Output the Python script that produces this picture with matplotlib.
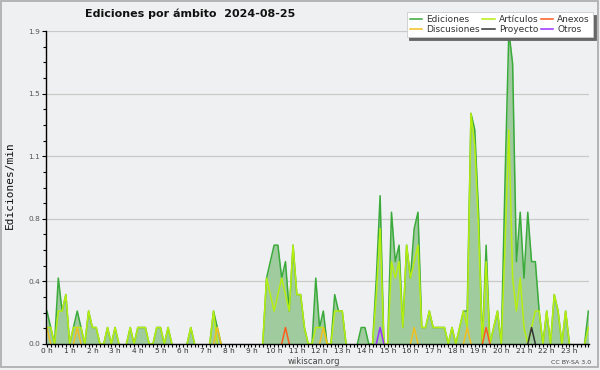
import numpy as np
import matplotlib
matplotlib.use('Agg')
import matplotlib.pyplot as plt
from matplotlib import font_manager as fm
from matplotlib.patches import Rectangle
from matplotlib.ticker import MultipleLocator, FixedLocator, FormatStrFormatter

# edits per minute, one value per 10-minute slot (144 slots, 00:00 .. 23:50)
ediciones = [
    0.2, 0.1, 0.0, 0.4, 0.2, 0.3,  0.0, 0.1, 0.2, 0.1, 0.0, 0.2,   # 0h 1h
    0.1, 0.1, 0.0, 0.0, 0.1, 0.0,  0.1, 0.0, 0.0, 0.0, 0.1, 0.0,   # 2h 3h
    0.1, 0.1, 0.1, 0.0, 0.0, 0.1,  0.1, 0.0, 0.1, 0.0, 0.0, 0.0,   # 4h 5h
    0.0, 0.0, 0.1, 0.0, 0.0, 0.0,  0.0, 0.0, 0.2, 0.1, 0.0, 0.0,   # 6h 7h
    0.0, 0.0, 0.0, 0.0, 0.0, 0.0,  0.0, 0.0, 0.0, 0.0, 0.4, 0.5,   # 8h 9h
    0.6, 0.6, 0.4, 0.5, 0.2, 0.6,  0.3, 0.3, 0.1, 0.0, 0.0, 0.4,   # 10h 11h
    0.1, 0.2, 0.0, 0.0, 0.3, 0.2,  0.2, 0.0, 0.0, 0.0, 0.0, 0.1,   # 12h 13h
    0.1, 0.0, 0.0, 0.4, 0.9, 0.0,  0.0, 0.8, 0.5, 0.6, 0.1, 0.6,   # 14h 15h
    0.4, 0.7, 0.8, 0.1, 0.1, 0.2,  0.1, 0.1, 0.1, 0.1, 0.0, 0.1,   # 16h 17h
    0.0, 0.1, 0.2, 0.2, 1.4, 1.3,  0.8, 0.0, 0.6, 0.0, 0.1, 0.2,   # 18h 19h
    0.0, 1.0, 1.9, 1.7, 0.5, 0.8,  0.4, 0.8, 0.5, 0.5, 0.2, 0.0,   # 20h 21h
    0.2, 0.0, 0.3, 0.2, 0.0, 0.2,  0.0, 0.0, 0.0, 0.0, 0.0, 0.2,   # 22h 23h
]
articulos = [
    0.1, 0.1, 0.0, 0.2, 0.2, 0.3,  0.0, 0.1, 0.1, 0.1, 0.0, 0.2,
    0.1, 0.1, 0.0, 0.0, 0.1, 0.0,  0.1, 0.0, 0.0, 0.0, 0.1, 0.0,
    0.1, 0.1, 0.1, 0.0, 0.0, 0.1,  0.1, 0.0, 0.1, 0.0, 0.0, 0.0,
    0.0, 0.0, 0.1, 0.0, 0.0, 0.0,  0.0, 0.0, 0.2, 0.0, 0.0, 0.0,
    0.0, 0.0, 0.0, 0.0, 0.0, 0.0,  0.0, 0.0, 0.0, 0.0, 0.4, 0.3,
    0.2, 0.3, 0.4, 0.3, 0.2, 0.6,  0.3, 0.3, 0.1, 0.0, 0.0, 0.1,
    0.1, 0.1, 0.0, 0.0, 0.2, 0.2,  0.2, 0.0, 0.0, 0.0, 0.0, 0.0,
    0.0, 0.0, 0.0, 0.3, 0.7, 0.0,  0.0, 0.5, 0.4, 0.5, 0.1, 0.6,
    0.4, 0.5, 0.6, 0.1, 0.1, 0.2,  0.1, 0.1, 0.1, 0.1, 0.0, 0.1,
    0.0, 0.1, 0.2, 0.1, 1.4, 1.2,  0.7, 0.0, 0.5, 0.0, 0.1, 0.2,
    0.0, 0.6, 1.3, 0.4, 0.2, 0.4,  0.1, 0.0, 0.1, 0.2, 0.2, 0.0,
    0.2, 0.0, 0.3, 0.2, 0.0, 0.2,  0.0, 0.0, 0.0, 0.0, 0.0, 0.1,
]
# sparse series: slot index -> value
discusiones_slot = [0, 8, 45, 73, 97, 111]
discusiones_val = [0.1, 0.1, 0.1, 0.1, 0.1, 0.1]
anexos_slot = [63, 116]
anexos_val = [0.1, 0.1]
proyecto_slot = [128]
proyecto_val = [0.1]
otros_slot = [88]
otros_val = [0.1]

hour_labels = ['%d h' % h for h in range(24)]
y_ticks = [0.0, 0.38, 0.76, 1.14, 1.52, 1.9]

n = len(ediciones)
hours = np.arange(n) / 6.0

def dense(slots, vals):
    v = np.zeros(n)
    v[slots] = vals
    return v

def trim(v):
    # hide the flat zero runs so they don't paint over the axis
    v = np.asarray(v, float)
    on = v > 0
    keep = on | np.r_[on[1:], False] | np.r_[False, on[:-1]]
    return np.where(keep, v, np.nan)

def have(family):
    try:
        fm.findfont(fm.FontProperties(family=family), fallback_to_default=False)
        return True
    except ValueError:
        return False

cond = have('DejaVu Sans Condensed')
title_font = dict(family='DejaVu Sans Condensed', size=9) if cond else dict(family='DejaVu Sans', size=8)
tick_font = dict(family='DejaVu Sans Condensed', size=6) if cond else dict(family='DejaVu Sans', size=5.3)

bg = '#eff0f1'
fig = plt.figure(figsize=(6, 3.7), dpi=100, facecolor=bg)
ax = fig.add_axes([46/600, 26/370, 543.3/600, 313/370], facecolor=bg)

c_ed = '#3aab3a'
c_art = '#b6ee10'
c_disc = '#f2c01e'
c_anex = '#ff5b1f'
c_proy = '#333333'
c_otros = '#9b30ff'

ax.fill_between(hours, ediciones, 0, color='#9fcb9f', lw=0, zorder=1)
ax.plot(hours, trim(ediciones), color=c_ed, lw=1.1, zorder=2, label='Ediciones')
ax.plot(hours, trim(dense(discusiones_slot, discusiones_val)), color=c_disc, lw=1.1, zorder=4, label='Discusiones')
ax.plot(hours, trim(articulos), color=c_art, lw=1.1, zorder=3, label='Artículos')
ax.plot(hours, trim(dense(proyecto_slot, proyecto_val)), color=c_proy, lw=1.1, zorder=4, label='Proyecto')
ax.plot(hours, trim(dense(anexos_slot, anexos_val)), color=c_anex, lw=1.1, zorder=4, label='Anexos')
ax.plot(hours, trim(dense(otros_slot, otros_val)), color=c_otros, lw=1.1, zorder=4, label='Otros')

ax.set_xlim(-0.25/6, (n - 0.75)/6)
ax.set_ylim(0, 1.9)

for s in ['top', 'right']:
    ax.spines[s].set_visible(False)
for s in ['left', 'bottom']:
    ax.spines[s].set_color('black')
    ax.spines[s].set_linewidth(1)
    ax.spines[s].set_zorder(6)

ax.set_axisbelow(True)
ax.yaxis.grid(True, color='#c9c9c9', lw=0.9)

ax.xaxis.set_major_locator(FixedLocator(range(24)))
ax.xaxis.set_minor_locator(MultipleLocator(1/6))
ax.set_xticklabels(hour_labels, color='#333333', **tick_font)
ax.yaxis.set_major_locator(FixedLocator(y_ticks))
ax.yaxis.set_minor_locator(MultipleLocator(0.095))
ax.yaxis.set_major_formatter(FormatStrFormatter('%.1f'))
for lab in ax.get_yticklabels():
    lab.set_fontfamily(tick_font['family'])
    lab.set_fontsize(tick_font['size'])
    lab.set_color('#555555')
ax.tick_params(axis='x', which='both', direction='out', length=2.4, width=0.8, pad=0.5, color='black')
ax.tick_params(axis='y', which='major', direction='out', length=3.2, width=0.8, pad=1, color='black')
ax.tick_params(axis='y', which='minor', direction='out', length=2.4, width=0.8, color='black')

leg = ax.legend(loc='upper right', bbox_to_anchor=(593/600, 1 - 12/370),
                bbox_transform=fig.transFigure, ncol=3, fontsize=6.5,
                handlelength=1.35, handletextpad=0.45, columnspacing=0.3,
                borderpad=0.35, labelspacing=0.12, borderaxespad=0,
                fancybox=False, framealpha=1, edgecolor='#cccccc',
                shadow={'color': '#666666', 'alpha': 1})
leg.get_frame().set_linewidth(0.6)
leg.set_zorder(10)
for t in leg.get_texts():
    t.set_color('#333333')

fig.text(85/600, 1 - 14/370, 'Ediciones por ámbito  2024-08-25', ha='left', va='center',
         weight='bold', color='#111111', **title_font)
fig.text(10/600, 1 - 185/370, 'Ediciones/min', rotation=90, ha='center', va='center',
         family='DejaVu Sans Mono', fontsize=8, color='#111111')
fig.text(314/600, 1 - 361/370, 'wikiscan.org', ha='center', va='center', fontsize=6, color='#444444')
fig.text(591/600, 1 - 362/370, 'CC BY-SA 3.0', ha='right', va='center', fontsize=4.5, color='#444444')

fig.patches.append(Rectangle((0.5/600, 3.5/370), 597.5/600, 365.5/370, transform=fig.transFigure,
                             fill=False, edgecolor='#aaaaaa', lw=1.2))

fig.savefig('out.png', dpi=100, facecolor=bg)
